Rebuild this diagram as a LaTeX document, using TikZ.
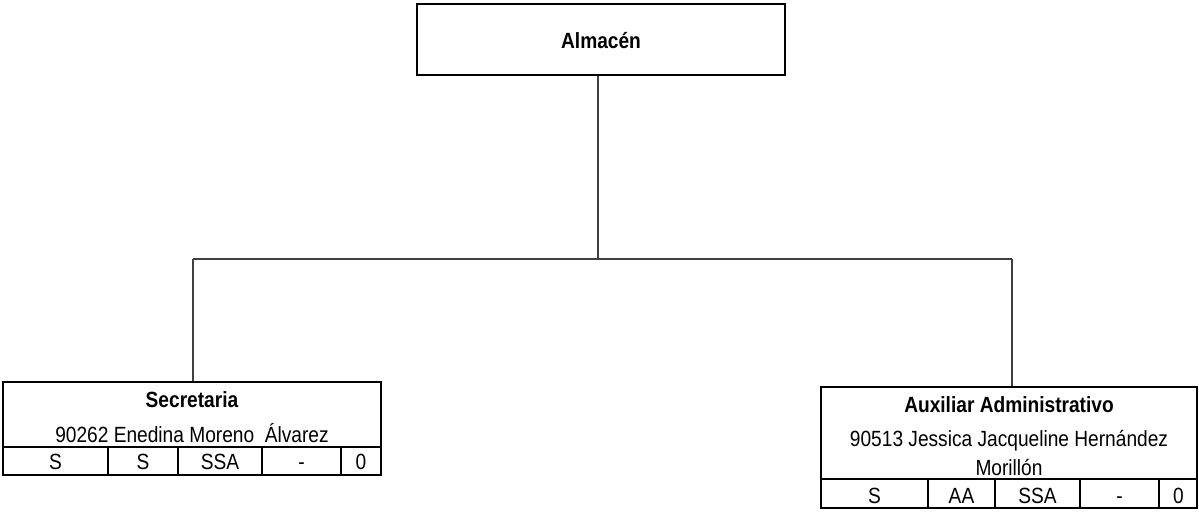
\documentclass[tikz,border=0pt]{standalone}
\usepackage{fontspec}
\setmainfont[FakeStretch=0.87]{Liberation Sans}
\begin{document}
\begin{tikzpicture}[x=1pt,y=-1pt,
  topbox/.style={draw=black, line width=1.4pt, rectangle, inner sep=0pt},
  posbox/.style={draw=black, line width=2.4pt, rectangle, inner sep=0pt},
  tbl/.style={black, line width=2.4pt},
  conn/.style={black!75, line width=1.2pt},
  txt/.style={anchor=base, inner sep=0pt, font=\fontsize{22}{26}\selectfont}]
\useasboundingbox (0,0) rectangle (1199,512);
% boxes
\node[topbox, minimum width=368pt, minimum height=71pt] (alm) at (601,39.5) {};
\node[posbox, minimum width=378pt, minimum height=93pt] (sec) at (192,428.5) {};
\node[posbox, minimum width=376pt, minimum height=121pt] (aux) at (1009,447.5) {};
% texts
\node[txt] (almt) at (601,48) {\bfseries Almacén};
\node[txt] (sect) at (192,407) {\bfseries Secretaria};
\node[txt] (secn) at (192,442) {90262 Enedina Moreno\ \ Álvarez};
\node[txt] (auxt) at (1009,412) {\bfseries Auxiliar Administrativo};
\node[txt] (auxn1) at (1009,446) {90513 Jessica Jacqueline Hernández};
\node[txt] (auxn2) at (1009,475) {Morillón};
% tables
\draw[tbl] (sec.west |- 0,447) -- (sec.east |- 0,447);
\foreach \x in {108,178,262,341} \draw[tbl] (\x,447) -- (\x,475);
\foreach \t/\x in {S/55.5,S/143,SSA/220,-/301.5,0/361}
  \node[txt] at (\x,469) {\t};
\draw[tbl] (aux.west |- 0,479) -- (aux.east |- 0,479);
\foreach \x in {928,995,1080,1159} \draw[tbl] (\x,479) -- (\x,508);
\foreach \t/\x in {S/874.5,AA/961.5,SSA/1037.5,-/1119.5,0/1178.5}
  \node[txt] at (\x,503) {\t};
% connectors
\coordinate (j) at (598,259);
\coordinate (jl) at (193,259);
\coordinate (jr) at (1012,259);
\draw[conn] (alm.south -| j) -- (j);
\draw[conn] (jl) -- (jr);
\draw[conn] (jl) -- (jl |- sec.north);
\draw[conn] (jr) -- (jr |- aux.north);
\end{tikzpicture}
\end{document}
